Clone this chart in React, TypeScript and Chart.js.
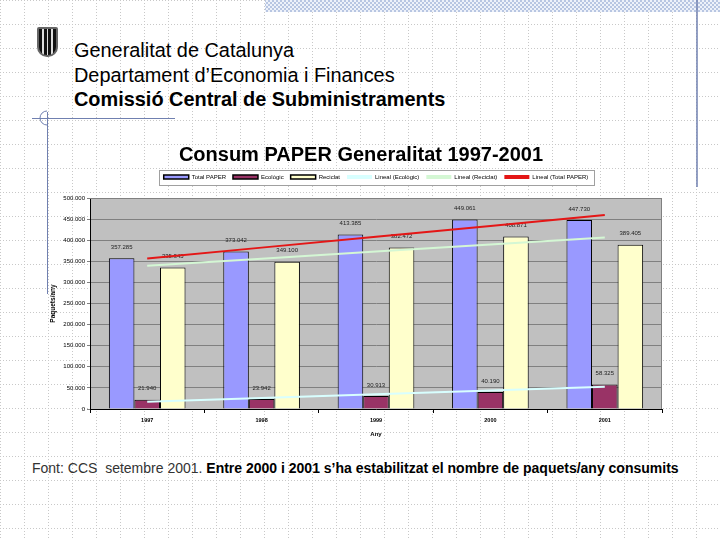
import React, { useEffect, useRef } from "react";
import { Chart, registerables } from "chart.js";
Chart.register(...registerables);

const FONT = "'Liberation Sans', Arial, Helvetica, sans-serif";

const years = ["1997", "1998", "1999", "2000", "2001"];
const totalPaper = [357285, 373042, 413385, 449061, 447730];
const ecologic = [21940, 23942, 30913, 40190, 58325];
const reciclat = [335345, 349100, 382472, 408871, 389405];
const trendEcologic = [17258, 26160, 35062, 43964, 52866];
const trendReciclat = [339461, 356250, 373039, 389828, 406617];
const trendTotal = [356719, 382410, 408101, 433792, 459482];
const yTicks = [0, 50000, 100000, 150000, 200000, 250000, 300000, 350000, 400000, 450000, 500000];

const fmt = (n: number) => String(n).replace(/\B(?=(\d{3})+(?!\d))/g, ".");

const decorPlugin = {
  id: "decor",
  beforeDraw(chart: any) {
    const { ctx, chartArea } = chart;
    ctx.save();
    ctx.fillStyle = "#c0c0c0";
    ctx.fillRect(chartArea.left, chartArea.top, chartArea.right - chartArea.left, chartArea.bottom - chartArea.top);
    const lg = chart.legend;
    if (lg && lg.legendHitBoxes && lg.legendHitBoxes.length) {
      const hb = lg.legendHitBoxes;
      const minX = Math.min(...hb.map((h: any) => h.left));
      const maxX = Math.max(...hb.map((h: any) => h.left + h.width));
      const cy = hb[0].top + hb[0].height / 2;
      ctx.fillStyle = "#ffffff";
      ctx.fillRect(minX - 5, cy - 7.5, maxX - minX + 10, 15);
      ctx.strokeStyle = "#a0a0a0";
      ctx.lineWidth = 1;
      ctx.strokeRect(Math.round(minX - 5) + 0.5, Math.round(cy - 7.5) + 0.5, Math.round(maxX - minX + 10), 15);
    }
    ctx.restore();
  },
  beforeDatasetsDraw(chart: any) {
    const { ctx, chartArea } = chart;
    ctx.save();
    ctx.strokeStyle = "#808080";
    ctx.lineWidth = 1;
    ctx.beginPath();
    ctx.moveTo(chartArea.left, Math.round(chartArea.top) + 0.5);
    ctx.lineTo(Math.round(chartArea.right) - 0.5, Math.round(chartArea.top) + 0.5);
    ctx.lineTo(Math.round(chartArea.right) - 0.5, chartArea.bottom);
    ctx.stroke();
    ctx.restore();
  },
  afterDatasetDraw(chart: any, args: any) {
    if (args.index > 2) return;
    const { ctx } = chart;
    const ds = chart.data.datasets[args.index];
    ctx.save();
    ctx.font = `6px ${FONT}`;
    ctx.fillStyle = "#222";
    ctx.textAlign = "center";
    ctx.textBaseline = "middle";
    args.meta.data.forEach((bar: any, i: number) => {
      ctx.fillText(fmt(ds.data[i]), bar.x, bar.y - 11);
    });
    ctx.restore();
  },
};

export default function App() {
  const ref = useRef<HTMLCanvasElement>(null);
  useEffect(() => {
    const barBase = { borderColor: "#000000", borderWidth: 1, order: 1 };
    const lineBase = { type: "line" as const, borderWidth: 2, pointRadius: 0, tension: 0, order: 0, fill: false };
    const chart = new Chart(ref.current as HTMLCanvasElement, {
      type: "bar",
      data: {
        labels: years,
        datasets: [
          { ...barBase, type: "bar", label: "Total PAPER", data: totalPaper, backgroundColor: "#9999ff" },
          { ...barBase, type: "bar", label: "Ecològic", data: ecologic, backgroundColor: "#993366" },
          { ...barBase, type: "bar", label: "Reciclat", data: reciclat, backgroundColor: "#ffffcc" },
          { ...lineBase, label: "Lineal (Ecològic)", data: trendEcologic, borderColor: "#d8ffff", backgroundColor: "#d8ffff" },
          { ...lineBase, label: "Lineal (Reciclat)", data: trendReciclat, borderColor: "#d4f7d4", backgroundColor: "#d4f7d4" },
          { ...lineBase, label: "Lineal (Total PAPER)", data: trendTotal, borderColor: "#e41616", backgroundColor: "#e41616" },
        ] as any,
      },
      options: {
        animation: false,
        responsive: true,
        maintainAspectRatio: false,
        devicePixelRatio: 1,
        layout: { padding: { left: 40, right: 28, top: 0, bottom: 9 } },
        datasets: { bar: { categoryPercentage: 0.67, barPercentage: 1 } },
        plugins: {
          tooltip: { enabled: false },
          title: {
            display: true,
            text: "Consum PAPER Generalitat 1997-2001",
            color: "#000",
            font: { family: FONT, size: 20, weight: "bold", lineHeight: 1.2 },
            padding: { top: 11, bottom: 0 },
          },
          subtitle: {
            display: true,
            text: " ",
            weight: 500,
            font: { size: 1, lineHeight: 1 },
            padding: { top: 0, bottom: 7 },
          } as any,
          legend: {
            display: true,
            position: "top",
            fullSize: false,
            labels: {
              boxWidth: 25,
              boxHeight: 4,
              padding: 7,
              color: "#000",
              font: { family: FONT, size: 6 },
              sort: (a: any, b: any) => a.datasetIndex - b.datasetIndex,
              generateLabels: (c: any) =>
                c.data.datasets.map((ds: any, i: number) => ({
                  text: ds.label,
                  fillStyle: ds.backgroundColor,
                  strokeStyle: ds.type === "line" ? ds.borderColor : "#000",
                  lineWidth: ds.type === "line" ? 0 : 1.5,
                  hidden: false,
                  datasetIndex: i,
                  fontColor: "#000",
                })),
            },
          },
        },
        scales: {
          x: {
            grid: { display: true, drawOnChartArea: false, offset: true, tickLength: 4, color: "#000" },
            border: { color: "#000" },
            ticks: { color: "#000", padding: 4, font: { family: FONT, size: 5.5, weight: "bold" } },
            title: {
              display: true,
              text: "Any",
              color: "#000",
              font: { family: FONT, size: 6, weight: "bold" },
              padding: { top: 2, bottom: 0 },
            },
            afterFit: (s: any) => {
              s.height = 29;
            },
          },
          y: {
            min: 0,
            max: 500000,
            afterBuildTicks: (s: any) => {
              s.ticks = yTicks.map((v) => ({ value: v }));
            },
            grid: { color: "#808080", tickLength: 3 },
            border: { color: "#000" },
            ticks: {
              color: "#000",
              padding: 2,
              font: { family: FONT, size: 6 },
              callback: (v: any) => fmt(Number(v)),
            },
            title: {
              display: true,
              text: "Paquets/any",
              color: "#000",
              font: { family: FONT, size: 6.5, weight: "bold" },
              padding: { top: -11, bottom: 0 },
            },
            afterFit: (s: any) => {
              s.width = 30;
            },
          },
        },
      } as any,
      plugins: [decorPlugin],
    });
    return () => chart.destroy();
  }, []);

  return (
    <div
      style={{
        position: "fixed",
        left: 0,
        top: 0,
        width: 720,
        height: 540,
        background: "#fff",
        overflow: "hidden",
        fontFamily: FONT,
      }}
    >
      <svg width={720} height={540} style={{ position: "absolute", left: 0, top: 0 }}>
        <defs>
          <pattern id="gridp" width="24" height="24" patternUnits="userSpaceOnUse">
            <line x1="0.5" y1="0" x2="0.5" y2="24" stroke="#c8c8c8" strokeDasharray="1 2" />
            <line x1="0" y1="0.5" x2="24" y2="0.5" stroke="#c8c8c8" strokeDasharray="1 2" />
          </pattern>
          <pattern id="hatch" width="4" height="4" patternUnits="userSpaceOnUse">
            <rect width="4" height="4" fill="#eef2fa" />
            <rect width="2" height="2" fill="#b8c6e2" />
            <rect x="2" y="2" width="2" height="2" fill="#b8c6e2" />
          </pattern>
        </defs>
        <rect width="720" height="540" fill="url(#gridp)" />
        <rect x="265" y="0" width="455" height="12" fill="url(#hatch)" />
        <line x1="697" y1="0" x2="697" y2="187" stroke="#7080b0" strokeWidth="1.5" />
        <line x1="32" y1="118.5" x2="175" y2="118.5" stroke="#7080b0" />
        <line x1="47.5" y1="112" x2="47.5" y2="294" stroke="#7080b0" />
        <path d="M47 111 A7 7 0 0 0 47 125" fill="none" stroke="#7080b0" />
      </svg>

      <div
        style={{
          position: "absolute",
          left: 37,
          top: 27,
          width: 21,
          height: 30,
          boxSizing: "border-box",
          border: "2px solid #666",
          borderRadius: "2px 2px 10px 10px",
          background: "repeating-linear-gradient(90deg, #111 0px, #111 3px, #ddd 3px, #ddd 4.5px)",
        }}
      />

      <div
        style={{
          position: "absolute",
          left: 74,
          top: 38,
          fontSize: 19.9,
          lineHeight: "24.5px",
          color: "#000",
          whiteSpace: "nowrap",
        }}
      >
        <div>Generalitat de Catalunya</div>
        <div>Departament d’Economia i Finances</div>
        <div style={{ fontWeight: "bold" }}>Comissió Central de Subministraments</div>
      </div>

      <div style={{ position: "absolute", left: 20, top: 132, width: 670, height: 315 }}>
        <canvas ref={ref} />
      </div>

      <div
        style={{
          position: "absolute",
          left: 32,
          top: 459,
          fontSize: 14,
          lineHeight: "18px",
          whiteSpace: "nowrap",
          color: "#333",
        }}
      >
        Font: CCS&nbsp; setembre 2001.{" "}
        <span style={{ fontWeight: "bold", color: "#000" }}>
          Entre 2000 i 2001 s’ha estabilitzat el nombre de paquets/any consumits
        </span>
      </div>
    </div>
  );
}
